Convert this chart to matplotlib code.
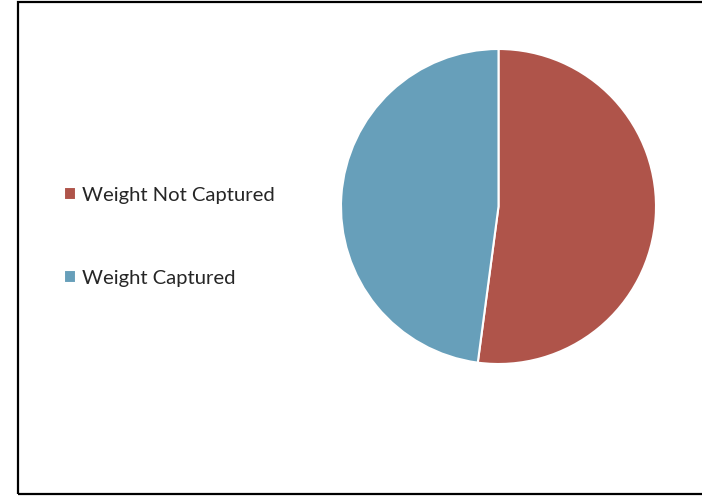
import matplotlib
matplotlib.use('Agg')
import matplotlib.pyplot as plt
from matplotlib.patches import Rectangle

labels = ['Weight Not Captured', 'Weight Captured']
values = [52.1, 47.9]
colors = ['#AF544A', '#679FBA']

plt.rcParams['font.family'] = ['Lato', 'DejaVu Sans']

fig = plt.figure(figsize=(7.02, 4.96), dpi=100)

# outer frame
fig.patches.append(Rectangle((18 / 702, 2 / 496), 1.0, 492 / 496, transform=fig.transFigure,
                             fill=False, edgecolor='black', linewidth=1.6, zorder=0))

ax = fig.add_axes([341 / 702, 132 / 496, 315 / 702, 315 / 496])
wedges, _ = ax.pie(values, colors=colors, startangle=90, counterclock=False,
                   wedgeprops=dict(edgecolor='white', linewidth=1.5))
ax.set_xlim(-1, 1)
ax.set_ylim(-1, 1)
ax.set_aspect('equal')
ax.axis('off')

fig.legend(wedges, labels, loc='upper left', bbox_to_anchor=(64 / 702, 1 - 187 / 496),
           frameon=False, handlelength=0.6, handleheight=0.6,
           handletextpad=0.3, labelspacing=3.25, borderpad=0, borderaxespad=0,
           prop={'size': 14.6})
for t in fig.legends[0].get_texts():
    t.set_color('#262626')

fig.savefig('out.png', dpi=100, facecolor='white')
